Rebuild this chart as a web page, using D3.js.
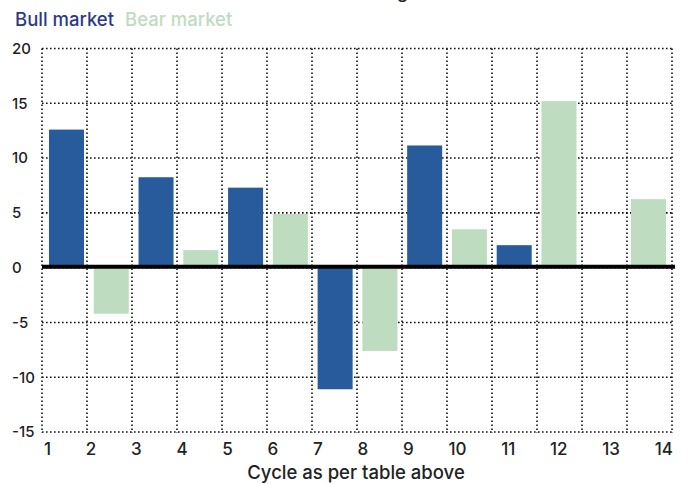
<!DOCTYPE html>
<html><head><meta charset="utf-8">
<script src="https://cdn.jsdelivr.net/npm/d3@7"></script>
<style>body{margin:0;background:#fff} svg{display:block;font-family:Inter,"Noto Sans",sans-serif}</style>
</head><body><svg id="c" width="688" height="484"></svg>
<script>
// ---- data ----
const cycles = ["1","2","3","4","5","6","7","8","9","10","11","12","13","14"];
const marketType = ["Bull","Bear","Bull","Bear","Bull","Bear","Bull","Bear","Bull","Bear","Bull","Bear","Bull","Bear"];
const values = [12.6,-4.2,8.25,1.6,7.3,4.9,-11.1,-7.6,11.15,3.5,2.05,15.2,null,6.25];
const yTicks = [20,15,10,5,0,-5,-10,-15];
const legendLabels = ["Bull market","Bear market"];
const xTitle = "Cycle as per table above";
const titleText = "Relative returns in bull and bear markets: average returns (USD)";

// ---- styles ----
const colors = {Bull:"#275b9b", Bear:"#bedcc0"};
const legendColors = ["#2d3a8a","#bedcc0"];
const svg = d3.select("#c");
const left = 42, right = 672;

const x = d3.scaleBand().domain(cycles).range([42,673]).paddingInner(0.218).paddingOuter(0.156);
const xGrid = d3.scaleLinear().domain([0,cycles.length]).range([left,right]);
const y = d3.scaleLinear().domain([-15,20]).range([432,48.5]);

// title (mostly cut off at top)
const tt = svg.append("text").attr("y",-2).attr("font-size",18).attr("font-weight",500).attr("fill","#222").text(titleText);
const gi = titleText.indexOf("g");
const pre = tt.node().getSubStringLength(0,gi);
tt.attr("x", 397 - pre);

// legend
let lx = 15;
legendLabels.forEach((l,i)=>{
  const t = svg.append("text").attr("x",lx).attr("y",25.5).attr("font-size",18.5).attr("font-weight",500)
    .attr("fill",legendColors[i]).text(l);
  lx += t.node().getComputedTextLength() + 11;
});

// grid
const grid = svg.append("g").attr("stroke","#111").attr("stroke-width",1.6).attr("stroke-dasharray","1.6,2.4");
grid.selectAll("line.h").data(yTicks).join("line").attr("class","h")
  .attr("x1",left).attr("x2",right+2).attr("y1",d=>y(d)).attr("y2",d=>y(d));
grid.selectAll("line.v").data(d3.range(cycles.length+1)).join("line").attr("class","v")
  .attr("x1",d=>xGrid(d)).attr("x2",d=>xGrid(d)).attr("y1",y(20)).attr("y2",y(-15)+1);

// y labels
svg.append("g").selectAll("text").data(yTicks).join("text")
  .attr("x",12).attr("y",d=>y(d)).attr("dy","0.36em").attr("font-size",15).attr("font-weight",500)
  .attr("fill","#222").text(d=>d);

// bars
const data = cycles.map((c,i)=>({c, v:values[i], t:marketType[i]})).filter(d=>d.v!=null);
svg.append("g").selectAll("rect").data(data).join("rect")
  .attr("x",d=>x(d.c)).attr("width",x.bandwidth())
  .attr("y",d=>y(Math.max(0,d.v))).attr("height",d=>Math.abs(y(d.v)-y(0)))
  .attr("fill",d=>colors[d.t]);

// zero line
svg.append("line").attr("x1",left).attr("x2",right+3).attr("y1",y(0)-1).attr("y2",y(0)-1)
  .attr("stroke","#000").attr("stroke-width",4);

// x labels, justified across the plot width
const xl = svg.append("g").selectAll("text").data(cycles).join("text")
  .attr("y",455).attr("font-size",17).attr("font-weight",500).attr("fill","#222").text(d=>d);
const widths = xl.nodes().map(n=>n.getComputedTextLength());
const x0 = 44, x1 = 673;
const gap = (x1 - x0 - d3.sum(widths)) / (cycles.length - 1);
let cx = x0;
xl.each(function(d,i){ d3.select(this).attr("x",cx); cx += widths[i] + gap; });

// x title
svg.append("text").attr("x",356).attr("y",479).attr("text-anchor","middle").attr("font-size",18.5)
  .attr("font-weight",500).attr("fill","#222").text(xTitle);
</script></body></html>
